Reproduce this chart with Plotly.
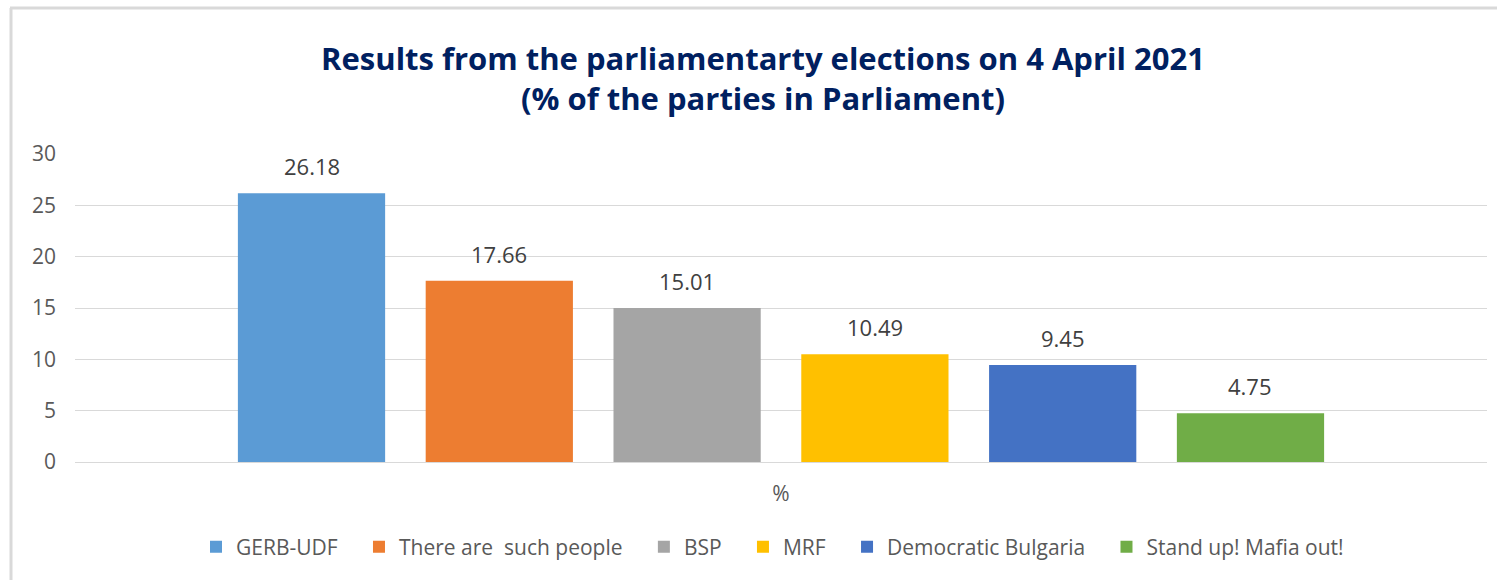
import plotly.graph_objects as go

categories = ["%"]
parties = ["GERB-UDF", "There are  such people", "BSP", "MRF", "Democratic Bulgaria", "Stand up! Mafia out!"]
values = [26.18, 17.66, 15.01, 10.49, 9.45, 4.75]
colors = ["#5B9BD5", "#ED7D31", "#A5A5A5", "#FFC000", "#4472C4", "#70AD47"]

FONT = "Open Sans"
W, H = 1497, 580
ml, mr, mt, mb = 75, 10, 154, 118
pw = W - ml - mr
ph = H - mt - mb
BARGAP, GROUPGAP = 0.202, 0.216

fig = go.Figure()
n = len(parties)
annotations = []
slot_px = pw * (1 - BARGAP) / n
for i, (name, val, col) in enumerate(zip(parties, values, colors)):
    fig.add_trace(go.Bar(
        x=categories, y=[val], name=name + "\u00a0" * 3,
        marker=dict(color=col, line=dict(width=0)),
    ))
    annotations.append(dict(
        x=categories[0], y=val, xref="x", yref="y",
        text=f"{val:.2f}", showarrow=False,
        xshift=(i - (n - 1) / 2) * slot_px, yshift=27, yanchor="middle",
        font=dict(family=FONT, size=22, color="#404040"),
    ))

def px_x(p):
    return (p - ml) / pw

def px_y(p):
    return (H - mb - p) / ph

fig.update_layout(
    width=W, height=H,
    margin=dict(l=ml, r=mr, t=mt, b=mb),
    paper_bgcolor="white", plot_bgcolor="white",
    barmode="group", bargap=BARGAP, bargroupgap=GROUPGAP,
    font=dict(family=FONT, color="#595959", size=21),
    title=dict(
        text="Results from the parliamentarty elections on 4 April 2021<br>(% of the parties in Parliament)",
        x=763 / W, xanchor="center", xref="container",
        y=1 - 70 / H, yanchor="middle", yref="container",
        font=dict(family=FONT, size=31, color="#002060", weight="bold"),
    ),
    showlegend=True,
    legend=dict(
        orientation="h", x=0.5, xanchor="center", y=px_y(547), yanchor="middle",
        font=dict(family=FONT, size=21, color="#595959"),
        itemwidth=30, traceorder="normal",
    ),
    annotations=annotations,
    xaxis=dict(showgrid=False, showline=False, ticks="", ticklabelstandoff=17,
               tickfont=dict(size=21, color="#595959")),
    yaxis=dict(range=[0, 30], dtick=5, showgrid=True, gridcolor="#D9D9D9", gridwidth=1,
               zeroline=True, zerolinecolor="#D9D9D9", zerolinewidth=1,
               showline=False, ticks="", ticklen=0, ticklabelstandoff=18,
               tickfont=dict(size=21, color="#595959")),
    shapes=[
        dict(type="line", xref="paper", yref="paper", x0=px_x(11), x1=px_x(11), y0=px_y(8), y1=px_y(H + 5),
             line=dict(color="#D9D9D9", width=3)),
        dict(type="line", xref="paper", yref="paper", x0=px_x(10), x1=px_x(W + 5), y0=px_y(8), y1=px_y(8),
             line=dict(color="#D9D9D9", width=3)),
    ],
)

fig.write_html("out.html")
